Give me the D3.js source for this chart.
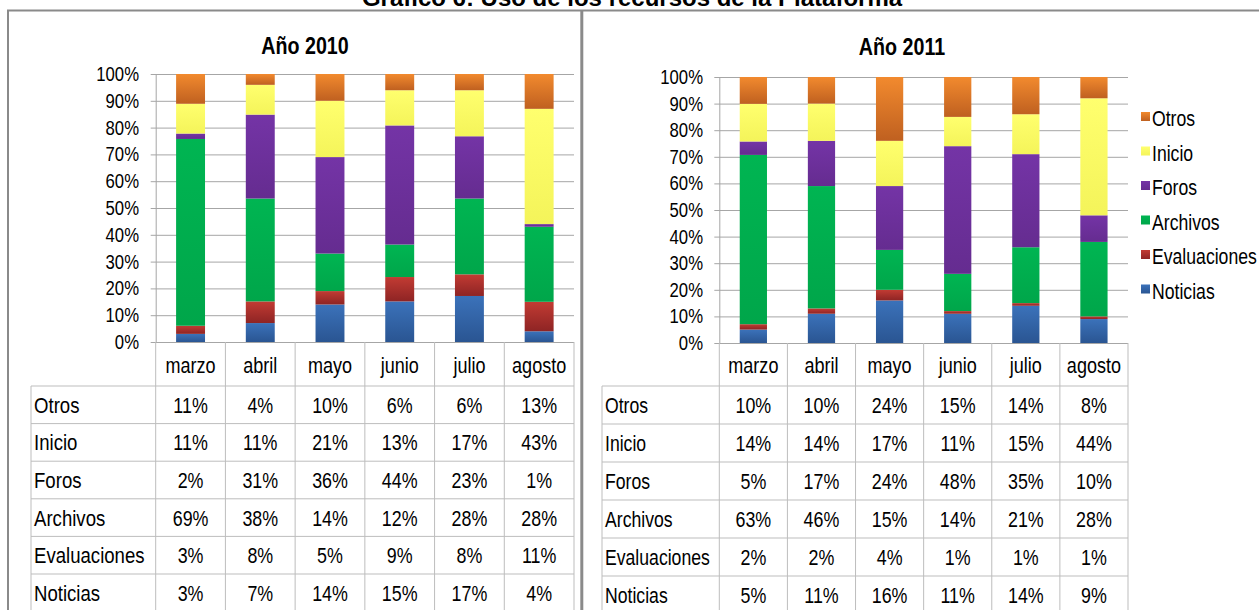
<!DOCTYPE html>
<html><head><meta charset="utf-8">
<script src="https://cdn.jsdelivr.net/npm/d3@7"></script>
<style>body{margin:0;background:#fff}svg{display:block}</style>
</head><body>
<svg id="c" width="1259" height="610"></svg>
<script>
// ---------- DATA ----------
const months = ["marzo","abril","mayo","junio","julio","agosto"];
const seriesNames = ["Otros","Inicio","Foros","Archivos","Evaluaciones","Noticias"]; // table order (top to bottom)
const stackOrder = ["Noticias","Evaluaciones","Archivos","Foros","Inicio","Otros"]; // bottom to top
const yTicks = [0,0.1,0.2,0.3,0.4,0.5,0.6,0.7,0.8,0.9,1];

const otros2010 = [11,4,10,6,6,13];
const inicio2010 = [11,11,21,13,17,43];
const foros2010 = [2,31,36,44,23,1];
const archivos2010 = [69,38,14,12,28,28];
const evaluaciones2010 = [3,8,5,9,8,11];
const noticias2010 = [3,7,14,15,17,4];

const otros2011 = [10,10,24,15,14,8];
const inicio2011 = [14,14,17,11,15,44];
const foros2011 = [5,17,24,48,35,10];
const archivos2011 = [63,46,15,14,21,28];
const evaluaciones2011 = [2,2,4,1,1,1];
const noticias2011 = [5,11,16,11,14,9];

const mainTitle = "Gráfico 6: Uso de los recursos de la Plataforma";
const title2010 = "Año 2010";
const title2011 = "Año 2011";

// ---------- STYLE ----------
const colors = {
  Otros: ["#F28A2E","#BF6020"],
  Inicio: ["#FFFF6E","#F4F45A"],
  Foros: ["#7434A6","#652C90"],
  Archivos: ["#00B552","#00A64A"],
  Evaluaciones: ["#C23B33","#8E2424"],
  Noticias: ["#3B72BA","#2A5592"]
};
const FONT = "'Liberation Sans', Arial, sans-serif";

const svg = d3.select("#c");
const defs = svg.append("defs");
Object.entries(colors).forEach(([k,[c1,c2]])=>{
  const g = defs.append("linearGradient").attr("id","g_"+k).attr("x1",0).attr("y1",0).attr("x2",0).attr("y2",1);
  g.append("stop").attr("offset","0%").attr("stop-color",c1);
  g.append("stop").attr("offset","100%").attr("stop-color",c2);
});

function txt(parent, x, y, s, size, anchor, sx, bold) {
  return parent.append("text")
    .attr("transform", `translate(${x},${y}) scale(${sx},1)`)
    .attr("text-anchor", anchor || "start")
    .attr("font-family", FONT)
    .attr("font-size", size)
    .attr("font-weight", bold ? "bold" : "normal")
    .attr("fill", "#000")
    .text(s);
}

// Frame
svg.append("line").attr("x1",7).attr("x2",1259).attr("y1",10.5).attr("y2",10.5).attr("stroke","#8a8a8a").attr("stroke-width",2);
svg.append("line").attr("x1",8).attr("x2",8).attr("y1",10).attr("y2",610).attr("stroke","#8a8a8a").attr("stroke-width",2);
svg.append("line").attr("x1",581.8).attr("x2",581.8).attr("y1",10).attr("y2",610).attr("stroke","#8a8a8a").attr("stroke-width",3);

txt(svg, 632, 6, mainTitle, 24, "middle", 1, true);

function panel(cfg, data, title) {
  const g = svg.append("g");
  const x = d3.scaleBand().domain(months).range([cfg.plotL, cfg.plotR]).padding(0);
  const y = d3.scaleLinear().domain([0,1]).range([cfg.bottom, cfg.top]);
  const rows = d3.scaleBand().domain(seriesNames).range([cfg.tableTop, cfg.tableTop + cfg.rowH*seriesNames.length]);

  // title
  txt(g, cfg.titleX, cfg.titleY, title, 24, "middle", 0.82, true);

  // gridlines + axis
  const yAxis = d3.axisLeft(y).tickValues(yTicks).tickFormat(d3.format(".0%"))
    .tickSize(-(cfg.plotR - cfg.plotL)).tickSizeOuter(0).tickPadding(0);
  const ag = g.append("g").attr("transform",`translate(${cfg.plotL},0)`).call(yAxis);
  ag.select(".domain").attr("stroke","#a6a6a6");
  ag.selectAll(".tick line").attr("stroke","#a6a6a6").attr("x1",-5);
  ag.selectAll(".tick text").remove();
  ag.selectAll(".tick").each(function(d){
    txt(g, cfg.labelX, y(d)+7, d3.format(".0%")(d), 20.5, "end", 0.815);
  });

  // stacked bars
  const table = months.map((m,i)=>{
    const o = {month:m};
    seriesNames.forEach(s=> o[s] = data[s][i]);
    return o;
  });
  const stack = d3.stack().keys(stackOrder).offset(d3.stackOffsetExpand);
  const layers = stack(table);
  const bw = x.bandwidth()*cfg.barFrac;
  g.append("g").selectAll("g").data(layers).join("g")
    .attr("fill", d=>`url(#g_${d.key})`)
    .selectAll("rect").data(d=>d).join("rect")
    .attr("x", d=> x(d.data.month) + (x.bandwidth()-bw)/2)
    .attr("width", bw)
    .attr("y", d=> y(d[1]))
    .attr("height", d=> y(d[0]) - y(d[1]));

  // table
  const tb = cfg.tableTop + cfg.rowH*seriesNames.length;
  const lc = "#bdbdbd";
  months.forEach((m,i)=>{
    g.append("line").attr("x1",x(m)).attr("x2",x(m)).attr("y1",cfg.bottom).attr("y2",tb).attr("stroke",lc);
  });
  g.append("line").attr("x1",cfg.plotR).attr("x2",cfg.plotR).attr("y1",cfg.bottom).attr("y2",tb).attr("stroke",lc);
  g.append("line").attr("x1",cfg.tableL).attr("x2",cfg.tableL).attr("y1",cfg.tableTop).attr("y2",tb).attr("stroke",lc);
  d3.range(seriesNames.length+1).forEach(k=>{
    const yy = cfg.tableTop + k*cfg.rowH;
    g.append("line").attr("x1",cfg.tableL).attr("x2",cfg.plotR).attr("y1",yy).attr("y2",yy).attr("stroke",lc);
  });
  months.forEach(m=>{
    txt(g, x(m)+x.bandwidth()/2, (cfg.bottom+cfg.tableTop)/2 + 8.5, m, 22, "middle", 0.82);
  });
  seriesNames.forEach(s=>{
    const cy = rows(s) + cfg.rowH/2 + 8;
    txt(g, cfg.tableL + 3, cy, s, 21.5, "start", cfg.lsx);
    months.forEach((m,i)=>{
      txt(g, x(m)+x.bandwidth()/2, cy, data[s][i] + "%", 21.5, "middle", 0.83);
    });
  });
}

panel({plotL:155.7, plotR:574, top:74, bottom:342, tableL:31, tableTop:386, rowH:37.6, titleX:305, titleY:54, labelX:139, barFrac:0.415, lsx:0.865},
  {Otros:otros2010, Inicio:inicio2010, Foros:foros2010, Archivos:archivos2010, Evaluaciones:evaluaciones2010, Noticias:noticias2010},
  title2010);
panel({plotL:719.3, plotR:1128, top:77, bottom:343, tableL:602, tableTop:386, rowH:38, titleX:902, titleY:55, labelX:703, barFrac:0.40, lsx:0.82},
  {Otros:otros2011, Inicio:inicio2011, Foros:foros2011, Archivos:archivos2011, Evaluaciones:evaluaciones2011, Noticias:noticias2011},
  title2011);

// legend
const leg = svg.append("g");
const legY = d3.scalePoint().domain(seriesNames).range([126, 298.5]);
seriesNames.forEach(s=>{
  leg.append("rect").attr("x",1141).attr("y",legY(s)-14).attr("width",9).attr("height",9).attr("fill",`url(#g_${s})`);
  txt(leg, 1152, legY(s), s, 21.5, "start", 0.82);
});
</script>
</body></html>
